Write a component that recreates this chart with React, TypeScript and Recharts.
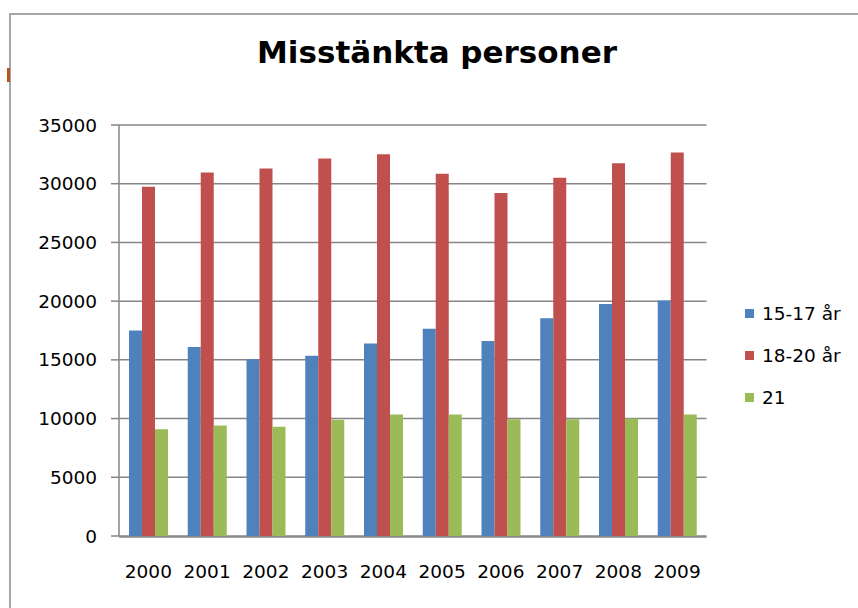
import React from 'react';
import { BarChart, Bar, XAxis, YAxis, CartesianGrid } from 'recharts';

const years = ['2000', '2001', '2002', '2003', '2004', '2005', '2006', '2007', '2008', '2009'];
const age15to17 = [17500, 16100, 15050, 15350, 16400, 17650, 16600, 18550, 19750, 20050];
const age18to20 = [29750, 30950, 31300, 32150, 32500, 30850, 29200, 30500, 31750, 32650];
const age21 = [9100, 9400, 9300, 9900, 10350, 10350, 9950, 9950, 10000, 10350];
const yTicks = [0, 5000, 10000, 15000, 20000, 25000, 30000, 35000];
const edgeTicks = [0, 1, 2, 3, 4, 5, 6, 7, 8, 9, 10];
const seriesKeys = ['a', 'b', 'c'];
const seriesNames = ['15-17 år', '18-20 år', '21'];
const seriesColors = ['#4F81BD', '#C0504D', '#9BBB59'];
const title = 'Misstänkta personer';

const data = years.map((y, i) => ({ year: y, a: age15to17[i], b: age18to20[i], c: age21[i] }));

const FONT = '"DejaVu Sans", sans-serif';
const AXIS = '#868686';

export default function App() {
  return (
    <div style={{ position: 'fixed', left: 0, top: 0, width: 858, height: 608, overflow: 'hidden', background: '#fff' }}>
      <div style={{ position: 'absolute', left: 9, top: 13, width: 1000, height: 1000, borderTop: '2px solid #a6a6a6', borderLeft: '2px solid #a6a6a6' }} />
      <div style={{ position: 'absolute', left: 7, top: 68, width: 3, height: 14, background: '#b5561e' }} />
      <div style={{ position: 'absolute', left: 0, width: 874, top: 34, textAlign: 'center', fontFamily: FONT, fontWeight: 'bold', fontSize: 31, lineHeight: 'normal', color: '#000' }}>
        {title}
      </div>
      <div style={{ position: 'absolute', left: 0, top: 0 }}>
        <BarChart width={858} height={608} data={data} margin={{ top: 125, right: 151.5, left: 0, bottom: 61 }} barGap={0} barSize={13}>
          <CartesianGrid vertical={false} stroke={AXIS} strokeWidth={1.5} />
          <XAxis dataKey="year" axisLine={false} tickLine={false} tickSize={0} tickMargin={29} height={1}
            tick={{ fill: '#000', fontSize: 18.5, fontFamily: FONT }} interval={0} />
          <XAxis xAxisId="edges" type="number" domain={[0, 10]} ticks={edgeTicks} allowDataOverflow tick={false}
            tickSize={8} height={10} axisLine={{ stroke: AXIS, strokeWidth: 1.5 }} tickLine={{ stroke: AXIS, strokeWidth: 1.5 }} />
          <YAxis domain={[0, 35000]} ticks={yTicks} width={119} tickSize={8} tickMargin={14} interval={0}
            axisLine={{ stroke: AXIS, strokeWidth: 1.5 }} tickLine={{ stroke: AXIS, strokeWidth: 1.5 }}
            tick={{ fill: '#000', fontSize: 18.5, fontFamily: FONT }} />
          {seriesKeys.map((k, i) => (
            <Bar key={k} dataKey={k} name={seriesNames[i]} fill={seriesColors[i]} isAnimationActive={false} />
          ))}
        </BarChart>
      </div>
      <div style={{ position: 'absolute', left: 745, top: 300, fontFamily: FONT, fontSize: 18.5, color: '#000' }}>
        {seriesNames.map((n, i) => (
          <div key={n} style={{ display: 'flex', alignItems: 'center', height: 26, marginBottom: 16 }}>
            <span style={{ display: 'inline-block', width: 9, height: 9, background: seriesColors[i], marginRight: 8 }} />
            <span>{n}</span>
          </div>
        ))}
      </div>
    </div>
  );
}
